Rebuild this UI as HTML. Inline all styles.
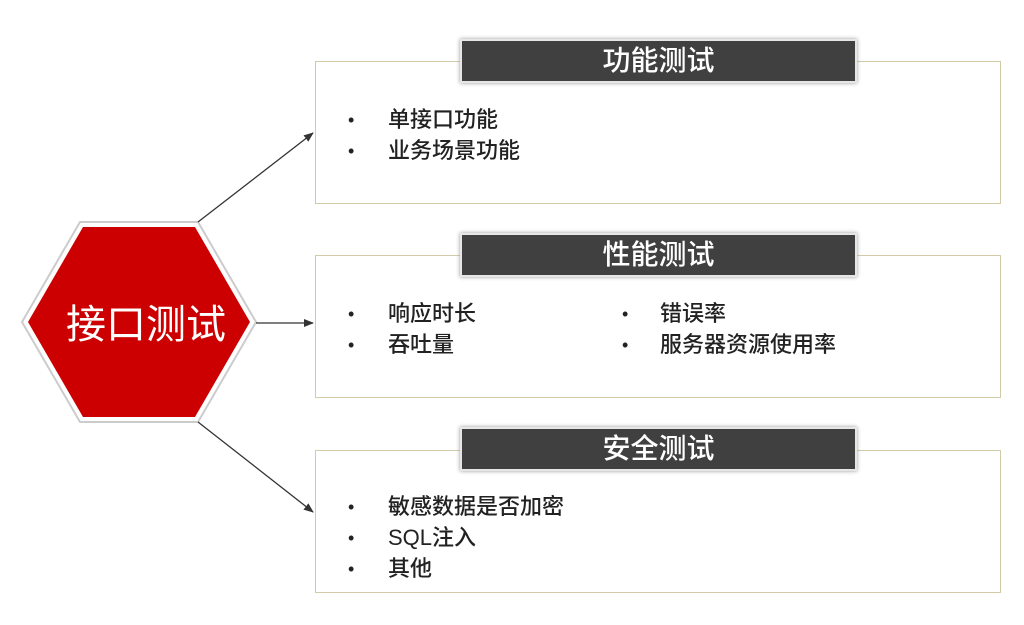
<!DOCTYPE html>
<html><head><meta charset="utf-8"><style>
body{margin:0;width:1024px;height:625px;background:#fff;position:relative;overflow:hidden;font-family:"Liberation Sans","Noto Sans CJK SC",sans-serif}
.box{position:absolute;left:315px;width:686px;height:143px;border:1.5px solid #d3cba8;box-sizing:border-box;background:#fff}
.hd{position:absolute;left:460px;width:397px;height:44px;background:#404040;border:2px solid #e6e6e6;box-shadow:0 0 4px #999;box-sizing:border-box;color:#fff;font-size:28px;text-align:center;line-height:40px;font-weight:500}
.t{position:absolute;font-size:22px;color:#222;line-height:31px;white-space:nowrap;font-weight:500}
.b{position:absolute;font-size:18px;color:#222;line-height:31px}
</style></head><body>
<svg width="1024" height="625" style="position:absolute;left:0;top:0">
<defs><marker id="a" markerWidth="10" markerHeight="8" refX="9" refY="4" orient="auto" markerUnits="userSpaceOnUse"><path d="M0,0L10,4L0,8z" fill="#333"/></marker></defs>
<polygon points="22,322 80,222 198,222 256,322 198,422 80,422" fill="#fff" stroke="#ccc" stroke-width="2"/>
<polygon points="28,322 83,227 195,227 250,322 195,417 83,417" fill="#cc0000"/>
<text x="146" y="338" fill="#fff" font-size="40" text-anchor="middle" font-family="Liberation Sans,Noto Sans CJK SC,sans-serif">接口测试</text>
<line x1="198" y1="222" x2="313" y2="133" stroke="#333" stroke-width="1.3" marker-end="url(#a)"/>
<line x1="256" y1="323" x2="313" y2="323" stroke="#333" stroke-width="1.3" marker-end="url(#a)"/>
<line x1="198" y1="422" x2="313" y2="512" stroke="#333" stroke-width="1.3" marker-end="url(#a)"/>
</svg>
<div class="box" style="top:61px"></div>
<div class="box" style="top:255px"></div>
<div class="box" style="top:450px"></div>
<div class="hd" style="top:39px">功能测试</div>
<div class="hd" style="top:233px">性能测试</div>
<div class="hd" style="top:427px">安全测试</div>
<div class="b" style="left:348px;top:105px">•<br>•</div>
<div class="t" style="left:388px;top:104px">单接口功能<br>业务场景功能</div>
<div class="b" style="left:348px;top:299px">•<br>•</div>
<div class="t" style="left:388px;top:298px">响应时长<br>吞吐量</div>
<div class="b" style="left:622px;top:299px">•<br>•</div>
<div class="t" style="left:660px;top:298px">错误率<br>服务器资源使用率</div>
<div class="b" style="left:348px;top:492px">•<br>•<br>•</div>
<div class="t" style="left:388px;top:491px">敏感数据是否加密<br>SQL注入<br>其他</div>
</body></html>
